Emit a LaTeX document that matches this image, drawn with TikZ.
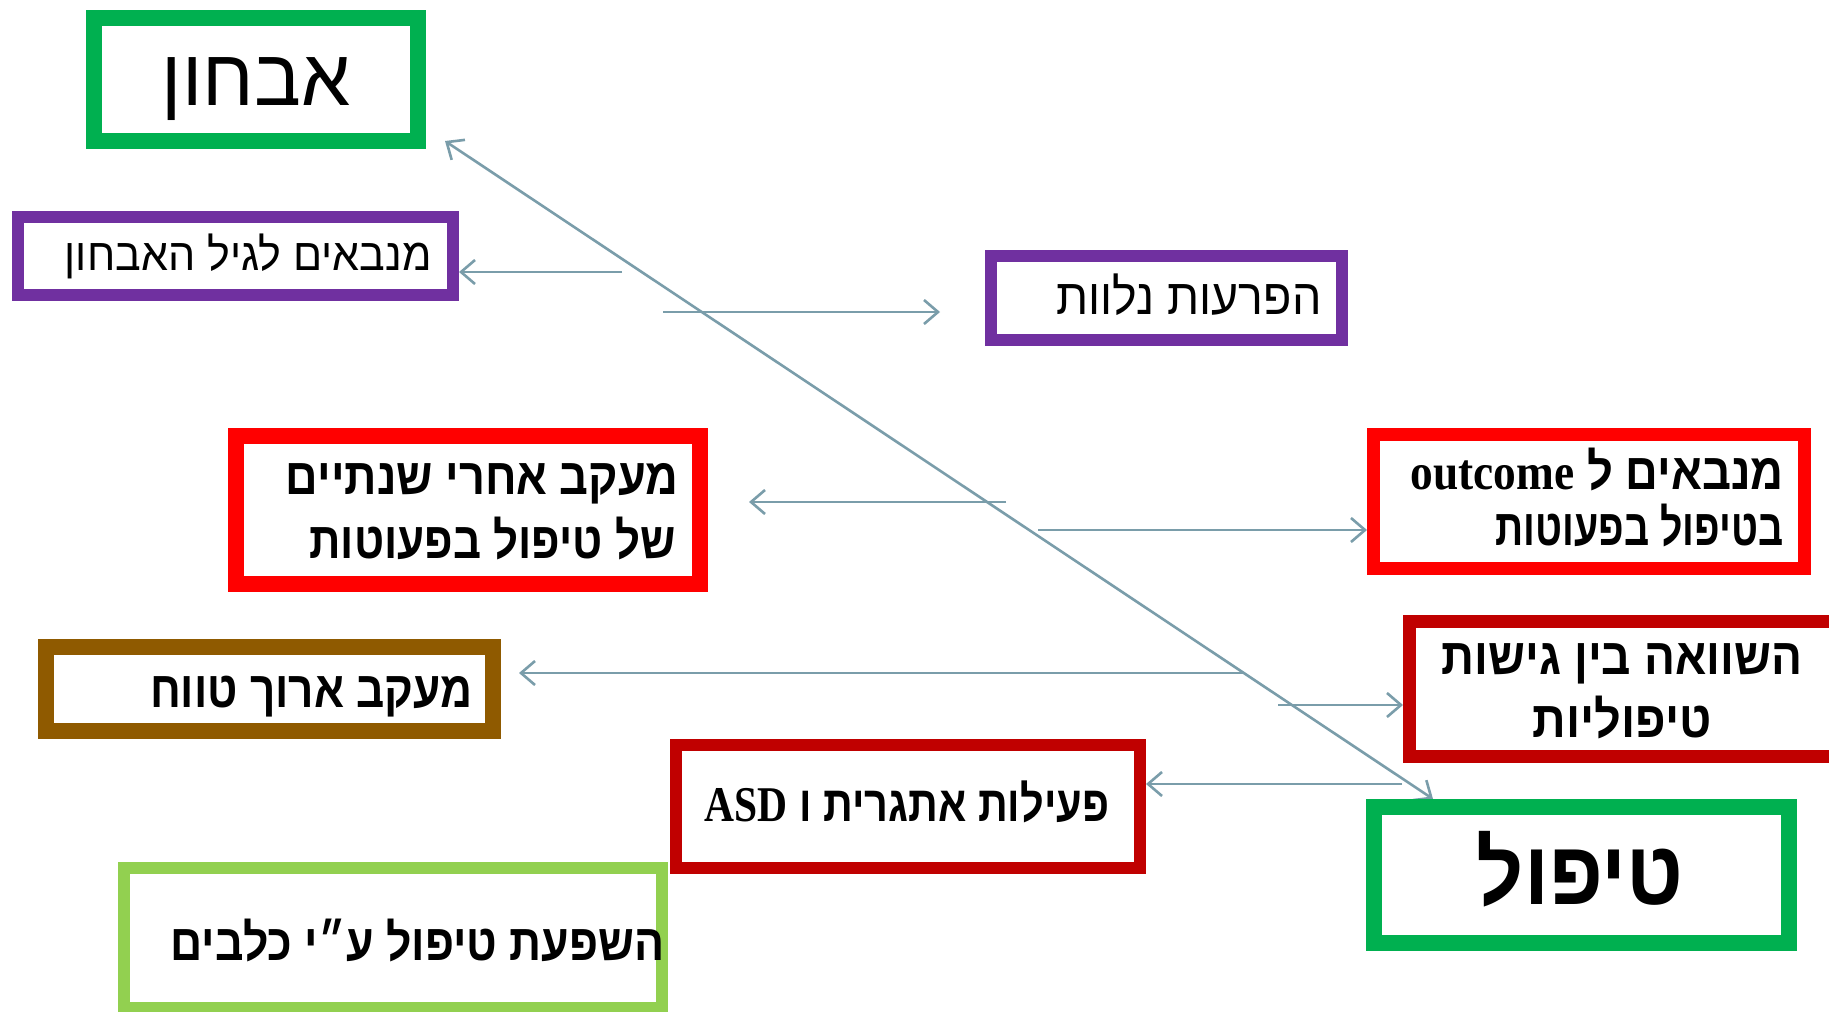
\documentclass[tikz,border=0pt]{standalone}
\usepackage{fontspec}
\usepackage{graphicx}
\usetikzlibrary{arrows.meta}
\TeXXeTstate=1
\newfontfamily\he[Script=Hebrew]{Liberation Sans}
\newfontfamily\en{Liberation Serif}
\definecolor{cgreen}{HTML}{00B050}
\definecolor{cpurple}{HTML}{7030A0}
\definecolor{cred}{HTML}{FF0000}
\definecolor{cdred}{HTML}{C00000}
\definecolor{cbrown}{RGB}{143,90,0}
\definecolor{clgreen}{HTML}{92D050}
\definecolor{cline}{RGB}{122,157,170}
\pgfdeclarelayer{bg}
\pgfsetlayers{bg,main}
\newcommand{\heb}[3]{\scalebox{#2}[1]{\fontsize{#1}{#1}\selectfont #3}}
\begin{document}
\begin{tikzpicture}[x=0.5pt,y=-0.5pt,
  box/.style={draw, inner sep=0pt, line join=miter},
  thickb/.style={box, line width=8pt, outer sep=4pt},
  thinb/.style={box, line width=6pt, outer sep=3pt},
  midb/.style={box, line width=6.5pt, outer sep=3.25pt},
  conn/.style={draw=cline, line width=1.3pt, -{Straight Barb[length=7pt,width=12pt]}},
  dconn/.style={draw=cline, line width=1.3pt, {Straight Barb[length=7pt,width=12pt]}-{Straight Barb[length=7pt,width=12pt]}},
  txt/.style={inner sep=0pt, font=\he},
  btxt/.style={inner sep=0pt, font=\he\bfseries},
  rtxt/.style={txt, anchor=base east},
  ctxt/.style={txt, anchor=base},
  rbtxt/.style={btxt, anchor=base east},
  cbtxt/.style={btxt, anchor=base},
]
\useasboundingbox (0,0) rectangle (1829,1011);
\clip (0,0) rectangle (1829,1011);

% boxes
\node[thickb, draw=cgreen, minimum width=162pt, minimum height=61.5pt] (b1) at (256,79.5) {};
\node[thinb, draw=cpurple, minimum width=217.5pt, minimum height=39pt] (b2) at (235.5,256) {};
\node[thinb, draw=cpurple, minimum width=175.5pt, minimum height=42pt] (b3) at (1166.5,298) {};
\node[thickb, draw=cred, minimum width=232pt, minimum height=74pt] (b4) at (468,510) {};
\node[midb, draw=cred, minimum width=215.5pt, minimum height=67pt] (b5) at (1589,501.5) {};
\node[thickb, draw=cbrown, minimum width=223.5pt, minimum height=42pt] (b6) at (269.5,689) {};
\node[midb, draw=cdred, minimum width=220.25pt, minimum height=67.5pt] (b7) at (1629.75,689) {};
\node[thinb, draw=cdred, minimum width=232pt, minimum height=61.5pt] (b8) at (908,806.5) {};
\node[thickb, draw=cgreen, minimum width=207.5pt, minimum height=68pt] (b9) at (1581.5,875) {};
\node[thinb, draw=clgreen, minimum width=269pt, minimum height=70pt] (b10) at (393,938) {};

% texts
\node[ctxt] (t1) at (256,105) {\heb{40}{0.98}{\beginR אבחון\endR}};
\node[rtxt] (t2) at (432,270) {\heb{22.5}{0.955}{\beginR מנבאים לגיל האבחון\endR}};
\node[rtxt] (t3) at (1322,314) {\heb{25}{0.93}{\beginR הפרעות נלוות\endR}};
\node[rbtxt] (t4a) at (679,494) {\heb{25.5}{0.885}{\beginR מעקב אחרי שנתיים\endR}};
\node[rbtxt] (t4b) at (676,558) {\heb{25.5}{0.86}{\beginR של טיפול בפעוטות\endR}};
\node[rbtxt] (t5a) at (1784,489) {\heb{25.5}{0.89}{\beginR מנבאים ל \beginL{\en\bfseries outcome}\endL\endR}};
\node[rbtxt] (t5b) at (1784,545) {\heb{25.5}{0.77}{\beginR בטיפול בפעוטות\endR}};
\node[rbtxt] (t6) at (473,707) {\heb{25.5}{0.865}{\beginR מעקב ארוך טווח\endR}};
\node[cbtxt] (t7a) at (1622,674) {\heb{25.5}{0.9}{\beginR השוואה בין גישות\endR}};
\node[cbtxt] (t7b) at (1622,737) {\heb{25.5}{0.92}{\beginR טיפוליות\endR}};
\node[cbtxt] (t8) at (907,821) {\heb{25}{0.83}{\beginR פעילות אתגרית ו \beginL{\en\bfseries ASD}\endL\endR}};
\node[cbtxt] (t9) at (1580,904) {\heb{45}{0.92}{\beginR טיפול\endR}};
\node[rbtxt] (t10) at (665,960) {\heb{25.5}{0.875}{\beginR השפעת טיפול ע״י כלבים\endR}};

% connectors
\coordinate (a0) at (622,272);
\coordinate (c0) at (663,312);
\coordinate (c1) at (940,312);
\coordinate (d0) at (1006,502);
\coordinate (d1) at (749,502);
\coordinate (e0) at (1038,530);
\coordinate (f0) at (1245,673);
\coordinate (f1) at (519,673);
\coordinate (g0) at (1278,705);
\coordinate (h0) at (1402,784);
\coordinate (p0) at (445,141);
\coordinate (q0) at (1433,800);
\begin{pgfonlayer}{bg}
\fill[white] (0,0) rectangle (1829,1011);
\draw[conn] (a0) -- (b2.east |- a0);
\draw[conn] (c0) -- (c1);
\draw[conn] (d0) -- (d1);
\draw[conn] (e0) -- (b5.west |- e0);
\draw[conn] (f0) -- (f1);
\draw[conn] (g0) -- (b7.west |- g0);
\draw[conn] (h0) -- (b8.east |- h0);
\draw[dconn] (p0) -- (b9.north -| q0);
\end{pgfonlayer}
\end{tikzpicture}
\end{document}
